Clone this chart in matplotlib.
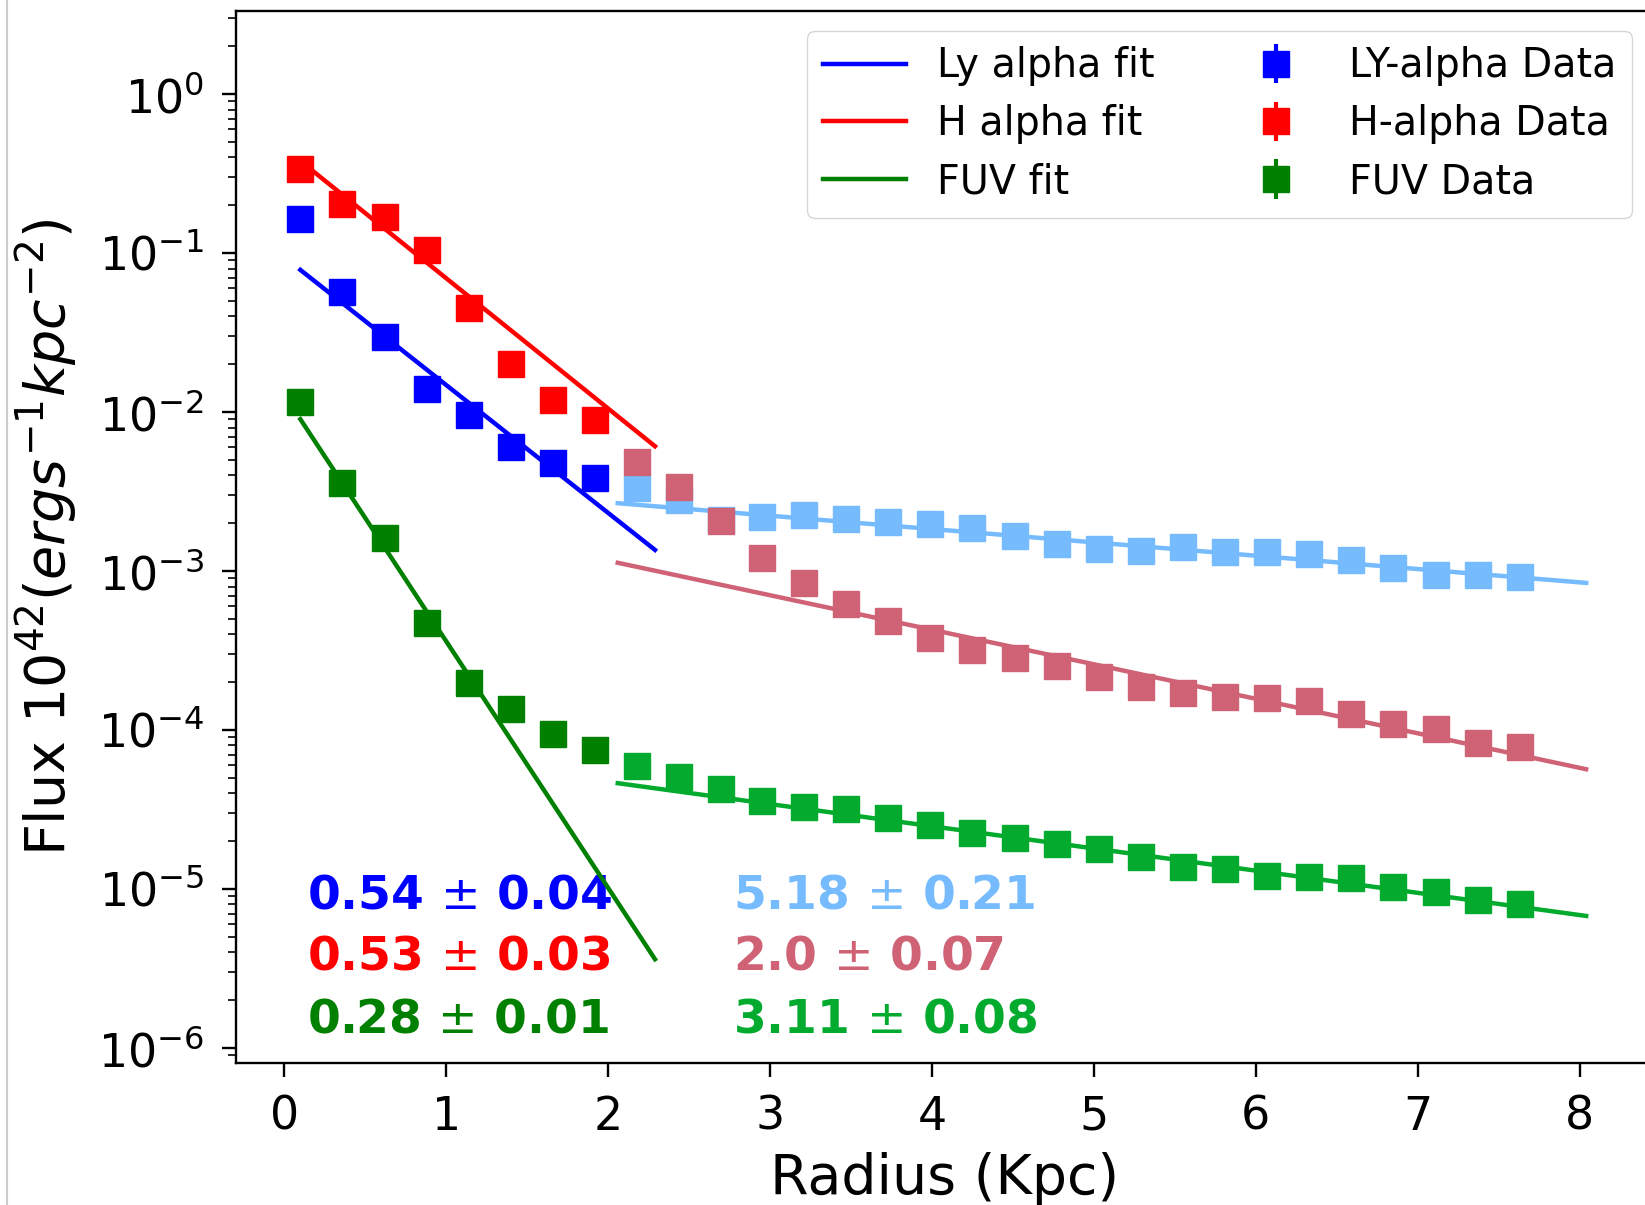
import numpy as np
import matplotlib
matplotlib.use('Agg')
import matplotlib.pyplot as plt
from matplotlib.lines import Line2D

# Radial bins (kpc); the first 8 belong to the inner disc, the rest to the outer disc
radius = [0.10, 0.36, 0.62, 0.88, 1.14, 1.40, 1.66, 1.92,
          2.18, 2.44, 2.70, 2.95, 3.21, 3.47, 3.73, 3.99, 4.25, 4.51, 4.77,
          5.03, 5.29, 5.55, 5.81, 6.07, 6.33, 6.59, 6.85, 7.11, 7.37, 7.63]
n_inner = 8

# Surface flux profiles (10^42 erg s^-1 kpc^-2)
ly_inner = [0.163, 0.0571, 0.0298, 0.0139, 0.00958, 0.00605, 0.0048, 0.00383]
ly_outer = [0.00334, 0.00282, 0.00209, 0.00218, 0.00225, 0.00214, 0.00204, 0.00199,
            0.00188, 0.00166, 0.00149, 0.00137, 0.00134, 0.00141, 0.00131, 0.00132,
            0.00129, 0.00117, 0.00105, 0.000943, 0.000939, 0.000912]

ha_inner = [0.336, 0.205, 0.169, 0.1045, 0.0449, 0.0200, 0.0120, 0.0089]
ha_outer = [0.00487, 0.00336, 0.00208, 0.00121, 0.000845, 0.000617, 0.000485, 0.000381,
            0.000317, 0.000285, 0.000254, 0.000216, 0.000187, 0.000172, 0.000161, 0.000160,
            0.000153, 0.000127, 0.000109, 0.000101, 8.24e-5, 7.78e-5]

fuv_inner = [0.0116, 0.00356, 0.00161, 4.73e-4, 1.97e-4, 1.36e-4, 9.4e-5, 7.5e-5]
fuv_outer = [5.97e-5, 5.04e-5, 4.27e-5, 3.57e-5, 3.28e-5, 3.18e-5, 2.80e-5, 2.52e-5,
             2.24e-5, 2.10e-5, 1.91e-5, 1.79e-5, 1.60e-5, 1.37e-5, 1.34e-5, 1.21e-5,
             1.19e-5, 1.17e-5, 1.03e-5, 9.63e-6, 8.57e-6, 8.05e-6]

# Exponential disc fits: central amplitude and scale length (kpc) with error
ly_fit = {'inner': (0.0944, 0.54, 0.04), 'outer': (0.00398, 5.18, 0.21)}
ha_fit = {'inner': (0.459, 0.53, 0.03), 'outer': (0.00316, 2.0, 0.07)}
fuv_fit = {'inner': (0.0129, 0.28, 0.01), 'outer': (8.99e-5, 3.11, 0.08)}

inner_span = (0.10, 2.29)
outer_span = (2.06, 8.04)

bands = [
    ('Ly alpha fit', 'LY-alpha Data', ly_inner, ly_outer, ly_fit, 'blue', 'xkcd:sky blue'),
    ('H alpha fit', 'H-alpha Data', ha_inner, ha_outer, ha_fit, 'red', 'xkcd:rose'),
    ('FUV fit', 'FUV Data', fuv_inner, fuv_outer, fuv_fit, 'green', 'xkcd:kelly green'),
]

fig = plt.figure(figsize=(16.45, 12.05), dpi=100)
ax = fig.add_axes([0.1435, 0.1178, 0.8608, 0.8732])

r_in = radius[:n_inner]
r_out = radius[n_inner:]

fit_handles = []
data_handles = []
for fit_label, data_label, inner, outer, fit, c_in, c_out in bands:
    ax.plot(r_in, inner, 's', color=c_in, ms=19, ls='none')
    ax.plot(r_out, outer, 's', color=c_out, ms=19, ls='none')

    amp, h, _ = fit['inner']
    xs = np.linspace(*inner_span, 50)
    line, = ax.plot(xs, amp * np.exp(-xs / h), color=c_in, lw=3.2)
    fit_handles.append(line)

    amp, h, _ = fit['outer']
    xs = np.linspace(*outer_span, 50)
    ax.plot(xs, amp * np.exp(-xs / h), color=c_out, lw=3.2)

    # empty errorbar container, used only for the legend entry
    eb = ax.errorbar([], [], yerr=[], fmt='s', color=c_in, ms=19, elinewidth=3)
    data_handles.append(eb)

ax.set_yscale('log')
ax.set_xlim(-0.297, 8.447)
ax.set_ylim(8.05e-7, 3.34)
ax.set_xticks(range(0, 9))

# scale lengths written in the lower left
text_y = [7.6e-6, 3.1e-6, 1.26e-6]
for (_, _, _, _, fit, c_in, c_out), ty in zip(bands, text_y):
    _, h, err = fit['inner']
    ax.text(0.143, ty, f'{h} $\\pm$ {err}', color=c_in, fontsize=34,
            fontweight='bold', va='baseline', zorder=1)
    _, h, err = fit['outer']
    ax.text(2.77, ty, f'{h} $\\pm$ {err}', color=c_out, fontsize=34,
            fontweight='bold', va='baseline', zorder=1)

ax.set_xlabel('Radius (Kpc)', fontsize=40, labelpad=9)
ax.set_ylabel(r'Flux $10^{42}(ergs^{-1}kpc^{-2})$', fontsize=40, labelpad=13)

ax.tick_params(which='major', length=10, width=1.7, labelsize=33, pad=13)
ax.tick_params(which='minor', length=5.5, width=1.2)
for sp in ax.spines.values():
    sp.set_linewidth(1.7)

labels = [b[0] for b in bands] + [b[1] for b in bands]
ax.legend(fit_handles + data_handles, labels, ncol=2, loc='upper right',
          fontsize=28.5, labelspacing=0.45, handlelength=2.1)

fig.add_artist(Line2D([0.0045, 0.0045], [0, 1], transform=fig.transFigure,
                      color='#cccccc', lw=1.5))

fig.savefig('out.png', dpi=100)
